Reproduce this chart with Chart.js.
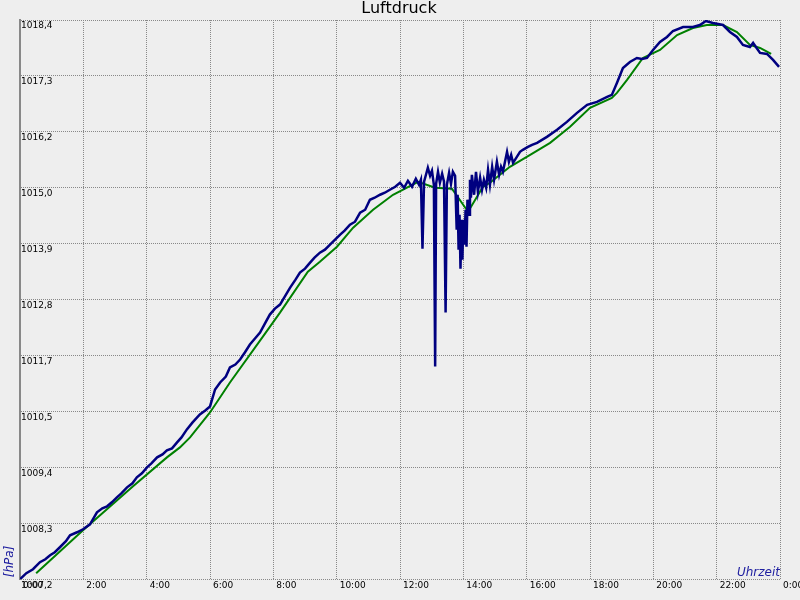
<!DOCTYPE html>
<html>
<head>
<meta charset="utf-8">
<title>Luftdruck</title>
<script src="https://cdn.jsdelivr.net/npm/chart.js@4.4.1/dist/chart.umd.min.js"></script>
<style>
    body { margin: 0; background: #eeeeee; }
    canvas { display: block; }
</style>
</head>
<body>
<canvas id="canvas" width="800" height="600"></canvas>
<script>
// Luftdruck over one day, time in hours
var title = "Luftdruck";
var yTitle = "[hPa]";
var xTitle = "Uhrzeit";

var xTickLabels = ["0:00", "2:00", "4:00", "6:00", "8:00", "10:00", "12:00", "14:00", "16:00", "18:00", "20:00", "22:00", "0:00"];
var xTickHours = [0, 2, 4, 6, 8, 10, 12, 14, 16, 18, 20, 22, 24];
var yTickLabels = ["1007,2", "1008,3", "1009,4", "1010,5", "1011,7", "1012,8", "1013,9", "1015,0", "1016,2", "1017,3", "1018,4"];
var yMin = 1007.2;
var yMax = 1018.4;

// measured values (blue)
var pressureTimes = [
    0.00, 0.20, 0.41, 0.63, 0.80, 0.95, 1.10, 1.26, 1.45, 1.58, 1.80, 1.99,
    2.21, 2.43, 2.60, 2.75, 2.90, 3.06, 3.20, 3.38, 3.55, 3.69, 3.85, 4.01,
    4.15, 4.33, 4.50, 4.64, 4.80, 4.96, 5.10, 5.27, 5.45, 5.68, 5.85, 6.00,
    6.16, 6.32, 6.50, 6.63, 6.80, 6.95, 7.10, 7.26, 7.42, 7.58, 7.75, 7.89,
    8.05, 8.21, 8.38, 8.53, 8.70, 8.84, 9.00, 9.16, 9.30, 9.47, 9.63, 9.79,
    9.95, 10.11, 10.25, 10.42, 10.58, 10.74, 10.90, 11.05, 11.20, 11.37, 11.52, 11.68,
    11.85, 12.00, 12.13, 12.25, 12.38, 12.50, 12.60, 12.66, 12.71, 12.76, 12.82, 12.88,
    12.95, 13.01, 13.07, 13.11, 13.14, 13.20, 13.26, 13.33, 13.39, 13.44, 13.48, 13.55,
    13.61, 13.67, 13.74, 13.79, 13.82, 13.85, 13.88, 13.91, 13.94, 13.97, 14.00, 14.04,
    14.07, 14.10, 14.13, 14.18, 14.21, 14.24, 14.27, 14.34, 14.40, 14.46, 14.53, 14.59,
    14.65, 14.72, 14.78, 14.84, 14.91, 14.97, 15.06, 15.13, 15.19, 15.25, 15.38, 15.44,
    15.51, 15.57, 15.69, 15.79, 15.88, 16.04, 16.17, 16.33, 16.64, 16.96, 17.27, 17.59,
    17.91, 18.22, 18.54, 18.69, 18.85, 19.04, 19.26, 19.48, 19.64, 19.80, 19.99, 20.21,
    20.43, 20.62, 20.94, 21.25, 21.47, 21.66, 21.88, 22.20, 22.42, 22.64, 22.83, 23.05,
    23.15, 23.37, 23.59, 23.78, 23.97
];
var pressureValues = [
    1007.20, 1007.32, 1007.40, 1007.54, 1007.60, 1007.68, 1007.74, 1007.84, 1007.96, 1008.08, 1008.14, 1008.20,
    1008.30, 1008.54, 1008.62, 1008.66, 1008.74, 1008.84, 1008.92, 1009.04, 1009.12, 1009.24, 1009.32, 1009.44,
    1009.52, 1009.64, 1009.70, 1009.78, 1009.82, 1009.94, 1010.04, 1010.20, 1010.34, 1010.50, 1010.58, 1010.66,
    1011.00, 1011.14, 1011.26, 1011.44, 1011.50, 1011.60, 1011.74, 1011.90, 1012.02, 1012.14, 1012.34, 1012.50,
    1012.62, 1012.70, 1012.88, 1013.04, 1013.20, 1013.34, 1013.42, 1013.54, 1013.64, 1013.74, 1013.80, 1013.90,
    1014.00, 1014.10, 1014.18, 1014.30, 1014.36, 1014.54, 1014.60, 1014.80, 1014.84, 1014.90, 1014.94, 1015.00,
    1015.06, 1015.14, 1015.04, 1015.18, 1015.06, 1015.22, 1015.10, 1015.20, 1013.82, 1015.16, 1015.30, 1015.44,
    1015.28, 1015.38, 1015.10, 1011.46, 1015.12, 1015.36, 1015.14, 1015.32, 1015.16, 1012.54, 1015.10, 1015.34,
    1015.12, 1015.36, 1015.28, 1014.20, 1014.90, 1013.80, 1014.50, 1013.42, 1014.40, 1013.60, 1014.40, 1013.90,
    1014.60, 1013.86, 1014.80, 1014.50, 1015.20, 1014.84, 1015.30, 1014.90, 1015.36, 1014.96, 1015.24, 1015.00,
    1015.20, 1015.04, 1015.40, 1015.10, 1015.46, 1015.20, 1015.56, 1015.30, 1015.46, 1015.36, 1015.76, 1015.56,
    1015.70, 1015.54, 1015.66, 1015.76, 1015.80, 1015.86, 1015.90, 1015.94, 1016.06, 1016.20, 1016.36, 1016.54,
    1016.70, 1016.76, 1016.86, 1016.90, 1017.14, 1017.44, 1017.56, 1017.64, 1017.62, 1017.64, 1017.80, 1017.96,
    1018.06, 1018.18, 1018.26, 1018.26, 1018.30, 1018.38, 1018.34, 1018.30, 1018.16, 1018.06, 1017.90, 1017.86,
    1017.94, 1017.74, 1017.72, 1017.60, 1017.46
];

// smoothed values (green)
var averageTimes = [
    0.51, 1.99, 3.57, 4.64, 5.05, 5.37, 6.00, 6.63, 7.67, 8.21, 9.09, 9.47,
    10.01, 10.52, 11.15, 11.78, 12.57, 13.11, 13.64, 14.15, 14.62, 14.84, 15.47, 16.11,
    16.74, 17.37, 18.00, 18.69, 18.85, 19.17, 19.67, 20.21, 20.75, 21.25, 21.69, 22.20,
    22.64, 23.05, 23.37, 23.72
];
var averageValues = [
    1007.32, 1008.18, 1009.06, 1009.64, 1009.84, 1010.04, 1010.54, 1011.14, 1012.06, 1012.54, 1013.36, 1013.56,
    1013.86, 1014.24, 1014.60, 1014.90, 1015.16, 1015.04, 1015.02, 1014.56, 1015.06, 1015.14, 1015.46, 1015.70,
    1015.94, 1016.26, 1016.64, 1016.84, 1016.94, 1017.20, 1017.64, 1017.80, 1018.10, 1018.24, 1018.30, 1018.30,
    1018.16, 1017.90, 1017.84, 1017.72
];

function toPoints(times, values) {
    var pts = [];
    for (let i = 0; i < times.length; i++) {
        pts.push({ x: times[i], y: values[i] });
    }
    return pts;
}

// axis titles sit inside the frame, so they are drawn by hand
var axisTitlePlugin = {
    id: "axisTitles",
    afterDraw: function (chart) {
        var ctx = chart.ctx;
        var area = chart.chartArea;
        ctx.save();
        ctx.fillStyle = "#2020a0";
        ctx.font = "italic 12px 'DejaVu Sans'";
        ctx.textAlign = "right";
        ctx.textBaseline = "alphabetic";
        ctx.fillText(xTitle, area.right, area.bottom - 3);
        ctx.translate(area.left - 10, area.bottom - 2);
        ctx.rotate(-Math.PI / 2);
        ctx.textAlign = "left";
        ctx.textBaseline = "middle";
        ctx.fillText(yTitle, 0, 0);
        ctx.restore();
    }
};

var gridDash = [1, 1];
var gridColor = "#888888";

window.addEventListener("load", function () {
    var ctx = document.getElementById("canvas").getContext("2d");
    var myChart = new Chart(ctx, {
        type: "line",
        data: {
            datasets: [{
                data: toPoints(pressureTimes, pressureValues),
                borderColor: "#000080",
                borderWidth: 2.5,
                pointRadius: 0,
                tension: 0,
                fill: false
            }, {
                data: toPoints(averageTimes, averageValues),
                borderColor: "#008000",
                borderWidth: 2,
                pointRadius: 0,
                tension: 0,
                fill: false
            }]
        },
        options: {
            responsive: false,
            animation: false,
            events: [],
            layout: {
                padding: { left: 18, right: 20, top: 0, bottom: 8 }
            },
            plugins: {
                legend: { display: false },
                tooltip: { enabled: false },
                title: {
                    display: true,
                    text: title,
                    color: "#000000",
                    font: { family: "'DejaVu Sans'", size: 16, weight: "normal", lineHeight: 1.125 },
                    padding: { top: 0, bottom: 2 }
                }
            },
            scales: {
                x: {
                    type: "linear",
                    min: 0,
                    max: 24,
                    grid: { color: gridColor, lineWidth: 1, drawTicks: false },
                    border: { display: false, dash: gridDash },
                    afterBuildTicks: function (scale) {
                        scale.ticks = xTickHours.map(function (h) { return { value: h }; });
                    },
                    afterFit: function (scale) {
                        scale.paddingLeft = 0;
                        scale.paddingRight = 0;
                    },
                    ticks: {
                        autoSkip: false,
                        maxRotation: 0,
                        align: "start",
                        labelOffset: 3,
                        padding: 1,
                        color: "#000000",
                        font: { family: "'DejaVu Sans'", size: 9 },
                        callback: function (value, index) { return xTickLabels[index]; }
                    }
                },
                y: {
                    min: yMin,
                    max: yMax,
                    grid: { color: gridColor, lineWidth: 1, drawTicks: false },
                    border: { display: true, color: "#888888", width: 2, dash: gridDash },
                    afterBuildTicks: function (scale) {
                        var step = (yMax - yMin) / (yTickLabels.length - 1);
                        scale.ticks = yTickLabels.map(function (l, i) { return { value: yMin + i * step }; });
                    },
                    afterFit: function (scale) {
                        scale.paddingTop = 0;
                        scale.paddingBottom = 0;
                    },
                    ticks: {
                        mirror: true,
                        padding: 1,
                        labelOffset: 6,
                        color: "#000000",
                        font: { family: "'DejaVu Sans'", size: 9 },
                        callback: function (value, index) { return yTickLabels[index]; }
                    }
                }
            }
        },
        plugins: [axisTitlePlugin]
    });
});
</script>
</body>
</html>
